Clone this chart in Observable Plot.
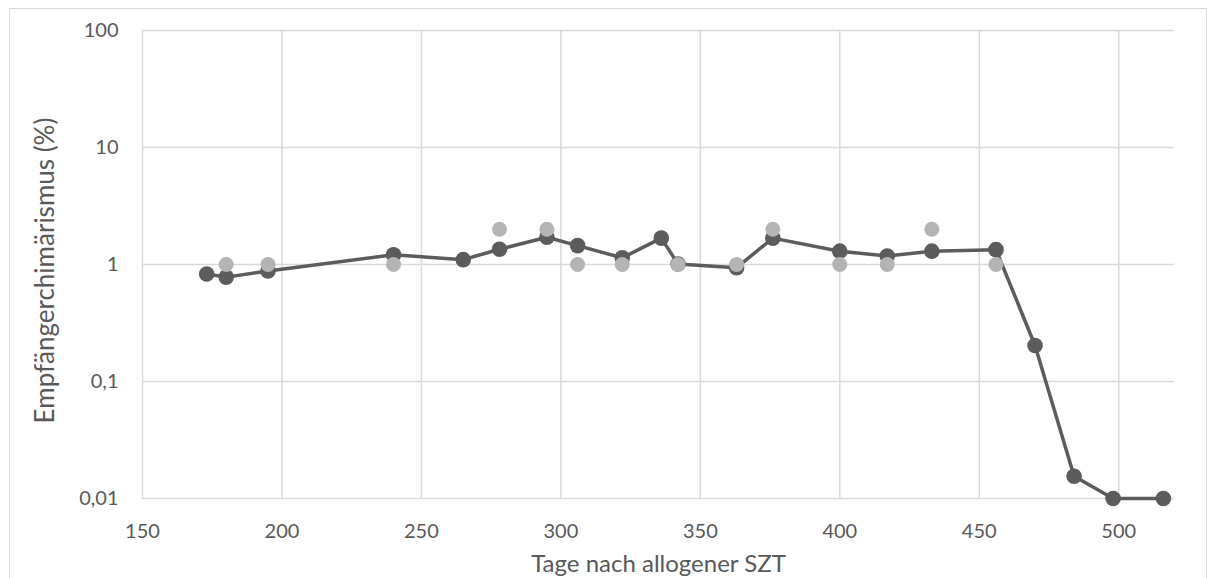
<!DOCTYPE html>
<html>
<head>
<meta charset="utf-8">
<script src="https://cdn.jsdelivr.net/npm/d3@7"></script>
<script src="https://cdn.jsdelivr.net/npm/@observablehq/plot@0.6"></script>
<style>
  html, body { margin: 0; padding: 0; background: #fff; }
  #wrap { position: relative; width: 1215px; height: 578px; overflow: hidden; }
  #frame { position: absolute; left: 9px; top: 8px; width: 1198px; height: 600px; border: 1px solid #d9d9d9; box-sizing: border-box; }
  #chart { position: absolute; left: 0; top: 0; }
</style>
</head>
<body>
<div id="wrap"><div id="frame"></div><div id="chart"></div></div>
<script>
// Dark series (line + markers)
const darkDays = [173, 180, 195, 240, 265, 278, 295, 306, 322, 336, 342, 363, 376, 400, 417, 433, 456, 470, 484, 498, 516];
const darkValues = [0.83, 0.78, 0.88, 1.21, 1.10, 1.35, 1.71, 1.45, 1.14, 1.68, 1.01, 0.94, 1.68, 1.30, 1.18, 1.30, 1.34, 0.203, 0.0155, 0.01, 0.01];
// Light series (markers only)
const lightDays = [180, 195, 240, 278, 295, 306, 322, 342, 363, 376, 400, 417, 433, 456];
const lightValues = [1, 1, 1, 2, 2, 1, 1, 1, 1, 2, 1, 1, 2, 1];
// Axis ticks
const xTicks = [150, 200, 250, 300, 350, 400, 450, 500];
const yTicks = [0.01, 0.1, 1, 10, 100];

const dark = darkDays.map((d, i) => ({day: d, value: darkValues[i]}));
const light = lightDays.map((d, i) => ({day: d, value: lightValues[i]}));

const darkColor = "#5c5c5c";
const lightColor = "#b4b4b4";
const gridColor = "#d9d9d9";
const textColor = "#595959";

const chart = Plot.plot({
  width: 1215,
  height: 578,
  marginLeft: 142,
  marginRight: 41,
  marginTop: 30,
  marginBottom: 80,
  style: {fontFamily: "Lato, 'Open Sans', sans-serif", fontSize: "20px", color: textColor, background: "transparent"},
  marks: [
    Plot.gridX(xTicks, {stroke: gridColor, strokeOpacity: 1, strokeWidth: 1.5}),
    Plot.gridY(yTicks, {y: d => d, stroke: gridColor, strokeOpacity: 1, strokeWidth: 1.5}),
    Plot.axisX(xTicks, {tickSize: 0, tickPadding: 25, fontSize: 20, label: null}),
    Plot.axisY(yTicks, {tickSize: 0, tickPadding: 24, fontSize: 20, label: null,
      tickFormat: d => String(d).replace(".", ",")}),
    Plot.line(dark, {x: "day", y: "value", stroke: darkColor, strokeWidth: 3.5}),
    Plot.dot(dark, {x: "day", y: "value", fill: darkColor, r: 7.8}),
    Plot.dot(light, {x: "day", y: "value", fill: lightColor, r: 7.5}),
    Plot.text(["Tage nach allogener SZT"], {frameAnchor: "bottom", dy: 73, text: d => d,
      fontSize: 24, fill: textColor, lineAnchor: "bottom"}),
    Plot.text(["Empfängerchimärismus (%)"], {frameAnchor: "left", dx: -89, dy: 6, text: d => d,
      fontSize: 26, fill: textColor, rotate: -90, lineAnchor: "bottom", textAnchor: "middle"})
  ],
  x: {domain: [150, 520]},
  y: {type: "log", domain: [0.01, 100]}
});
document.getElementById("chart").appendChild(chart);
</script>
</body>
</html>
